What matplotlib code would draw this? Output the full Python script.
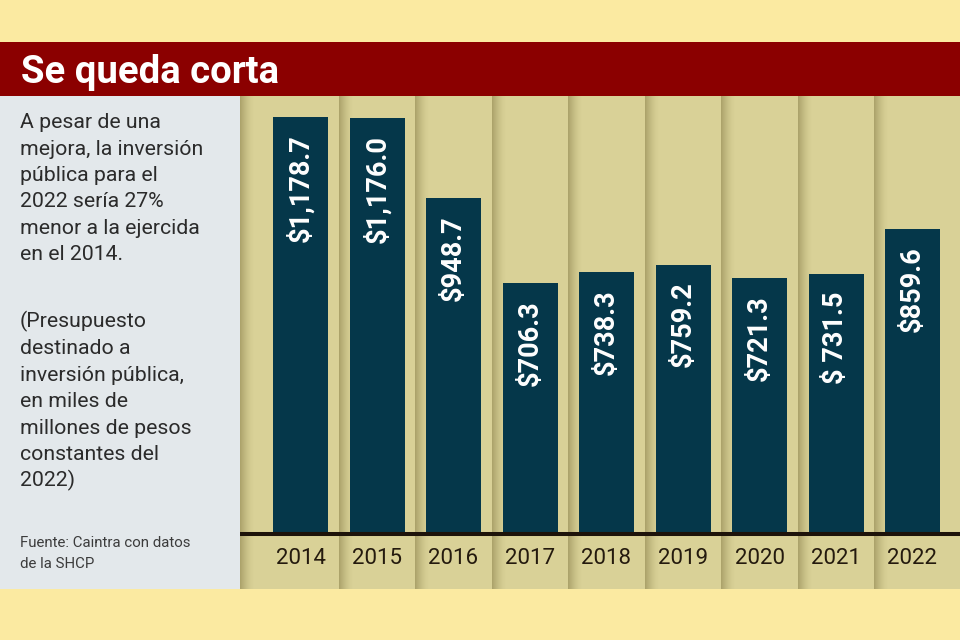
import matplotlib
matplotlib.use("Agg")
import matplotlib.pyplot as plt
from matplotlib.patches import Rectangle

# datos
years = ["2014", "2015", "2016", "2017", "2018", "2019", "2020", "2021", "2022"]
values = [1178.7, 1176.0, 948.7, 706.3, 738.3, 759.2, 721.3, 731.5, 859.6]
value_labels = ["$1,178.7", "$1,176.0", "$948.7", "$706.3", "$738.3",
                "$759.2", "$721.3", "$ 731.5", "$859.6"]

title = "Se queda corta"
intro_lines = ["A pesar de una", "mejora, la inversión", "pública para el",
               "2022 sería 27%", "menor a la ejercida", "en el 2014."]
note_lines = ["(Presupuesto", "destinado a", "inversión pública,", "en miles de",
              "millones de pesos", "constantes del", "2022)"]
source_lines = ["Fuente: Caintra con datos", "de la SHCP"]

CREAM = "#fbeaa1"
RED = "#8b0000"
PANEL = "#e3e8eb"
BEIGE = "#d9d197"
BAR = "#05374a"
TEXT = "#2b2b2b"

W, H = 960, 640
plt.rcParams["font.family"] = ["Roboto", "DejaVu Sans"]

fig = plt.figure(figsize=(W / 100, H / 100), dpi=100)
fig.patch.set_facecolor(CREAM)


def fx(px):
    return px / W


def fy(py):
    return 1 - py / H


def band(x0, y0, x1, y1, color):
    fig.patches.append(Rectangle((fx(x0), fy(y1)), fx(x1) - fx(x0), fy(y0) - fy(y1),
                                 transform=fig.transFigure, facecolor=color,
                                 edgecolor="none", zorder=0))


band(0, 41.7, W, 95.7, RED)
band(0, 95.7, 240, 589, PANEL)

# area del grafico
ax = fig.add_axes([fx(240), fy(589), fx(960) - fx(240), fy(95.7) - fy(589)])
ax.set_facecolor(BEIGE)
for s in ax.spines.values():
    s.set_visible(False)
ax.set_xticks([])
ax.set_yticks([])

step = 76.5          # px por columna
x0 = 300.5           # centro de la primera barra
scale = 415 / 1178.7  # px por unidad
base_px = 532
ax.set_xlim(-(x0 - 240) / step, (960 - x0) / step)
ax.set_ylim(-(589 - base_px) / scale, (base_px - 95.7) / scale)

# sombras de las columnas
edges = [ax.get_xlim()[0]] + [i + 0.5 for i in range(len(years) - 1)]
nsl = 14
for e in edges:
    for k in range(nsl):
        a = 0.42 * (1 - k / nsl) ** 1.6
        ax.axvspan(e + k / step, e + (k + 1) / step, color="#6f6430",
                   alpha=a, lw=0, zorder=1)

xs = list(range(len(years)))
ax.bar(xs, values, width=55 / step, color=BAR, zorder=3)
ax.axhline(-2 / scale, color="#1d130a", lw=2.9, zorder=4)

for x, v, lab in zip(xs, values, value_labels):
    ax.text(x, v - 17 / scale, lab, rotation=90, ha="center", va="top",
            color="white", fontsize=19.5, fontweight="bold", zorder=5)

for x, y in zip(xs, years):
    ax.text(x, -(564.3 - base_px) / scale, y, ha="center", va="baseline",
            color="#241a0e", fontsize=16, zorder=5)

# textos
fig.text(fx(21), fy(83.3), title, color="white", fontsize=27.5,
         fontweight="bold", va="baseline")
for i, line in enumerate(intro_lines):
    fig.text(fx(20), fy(128.3 + 26.3 * i), line, color=TEXT, fontsize=15.3,
             va="baseline")
for i, line in enumerate(note_lines):
    fig.text(fx(20), fy(327.7 + 26.5 * i), line, color=TEXT, fontsize=15.3,
             va="baseline")
for i, line in enumerate(source_lines):
    fig.text(fx(20), fy(546.7 + 21.6 * i), line, color="#3c3c3c", fontsize=10.8,
             va="baseline")

fig.savefig("out.png", dpi=100, facecolor=fig.get_facecolor())
